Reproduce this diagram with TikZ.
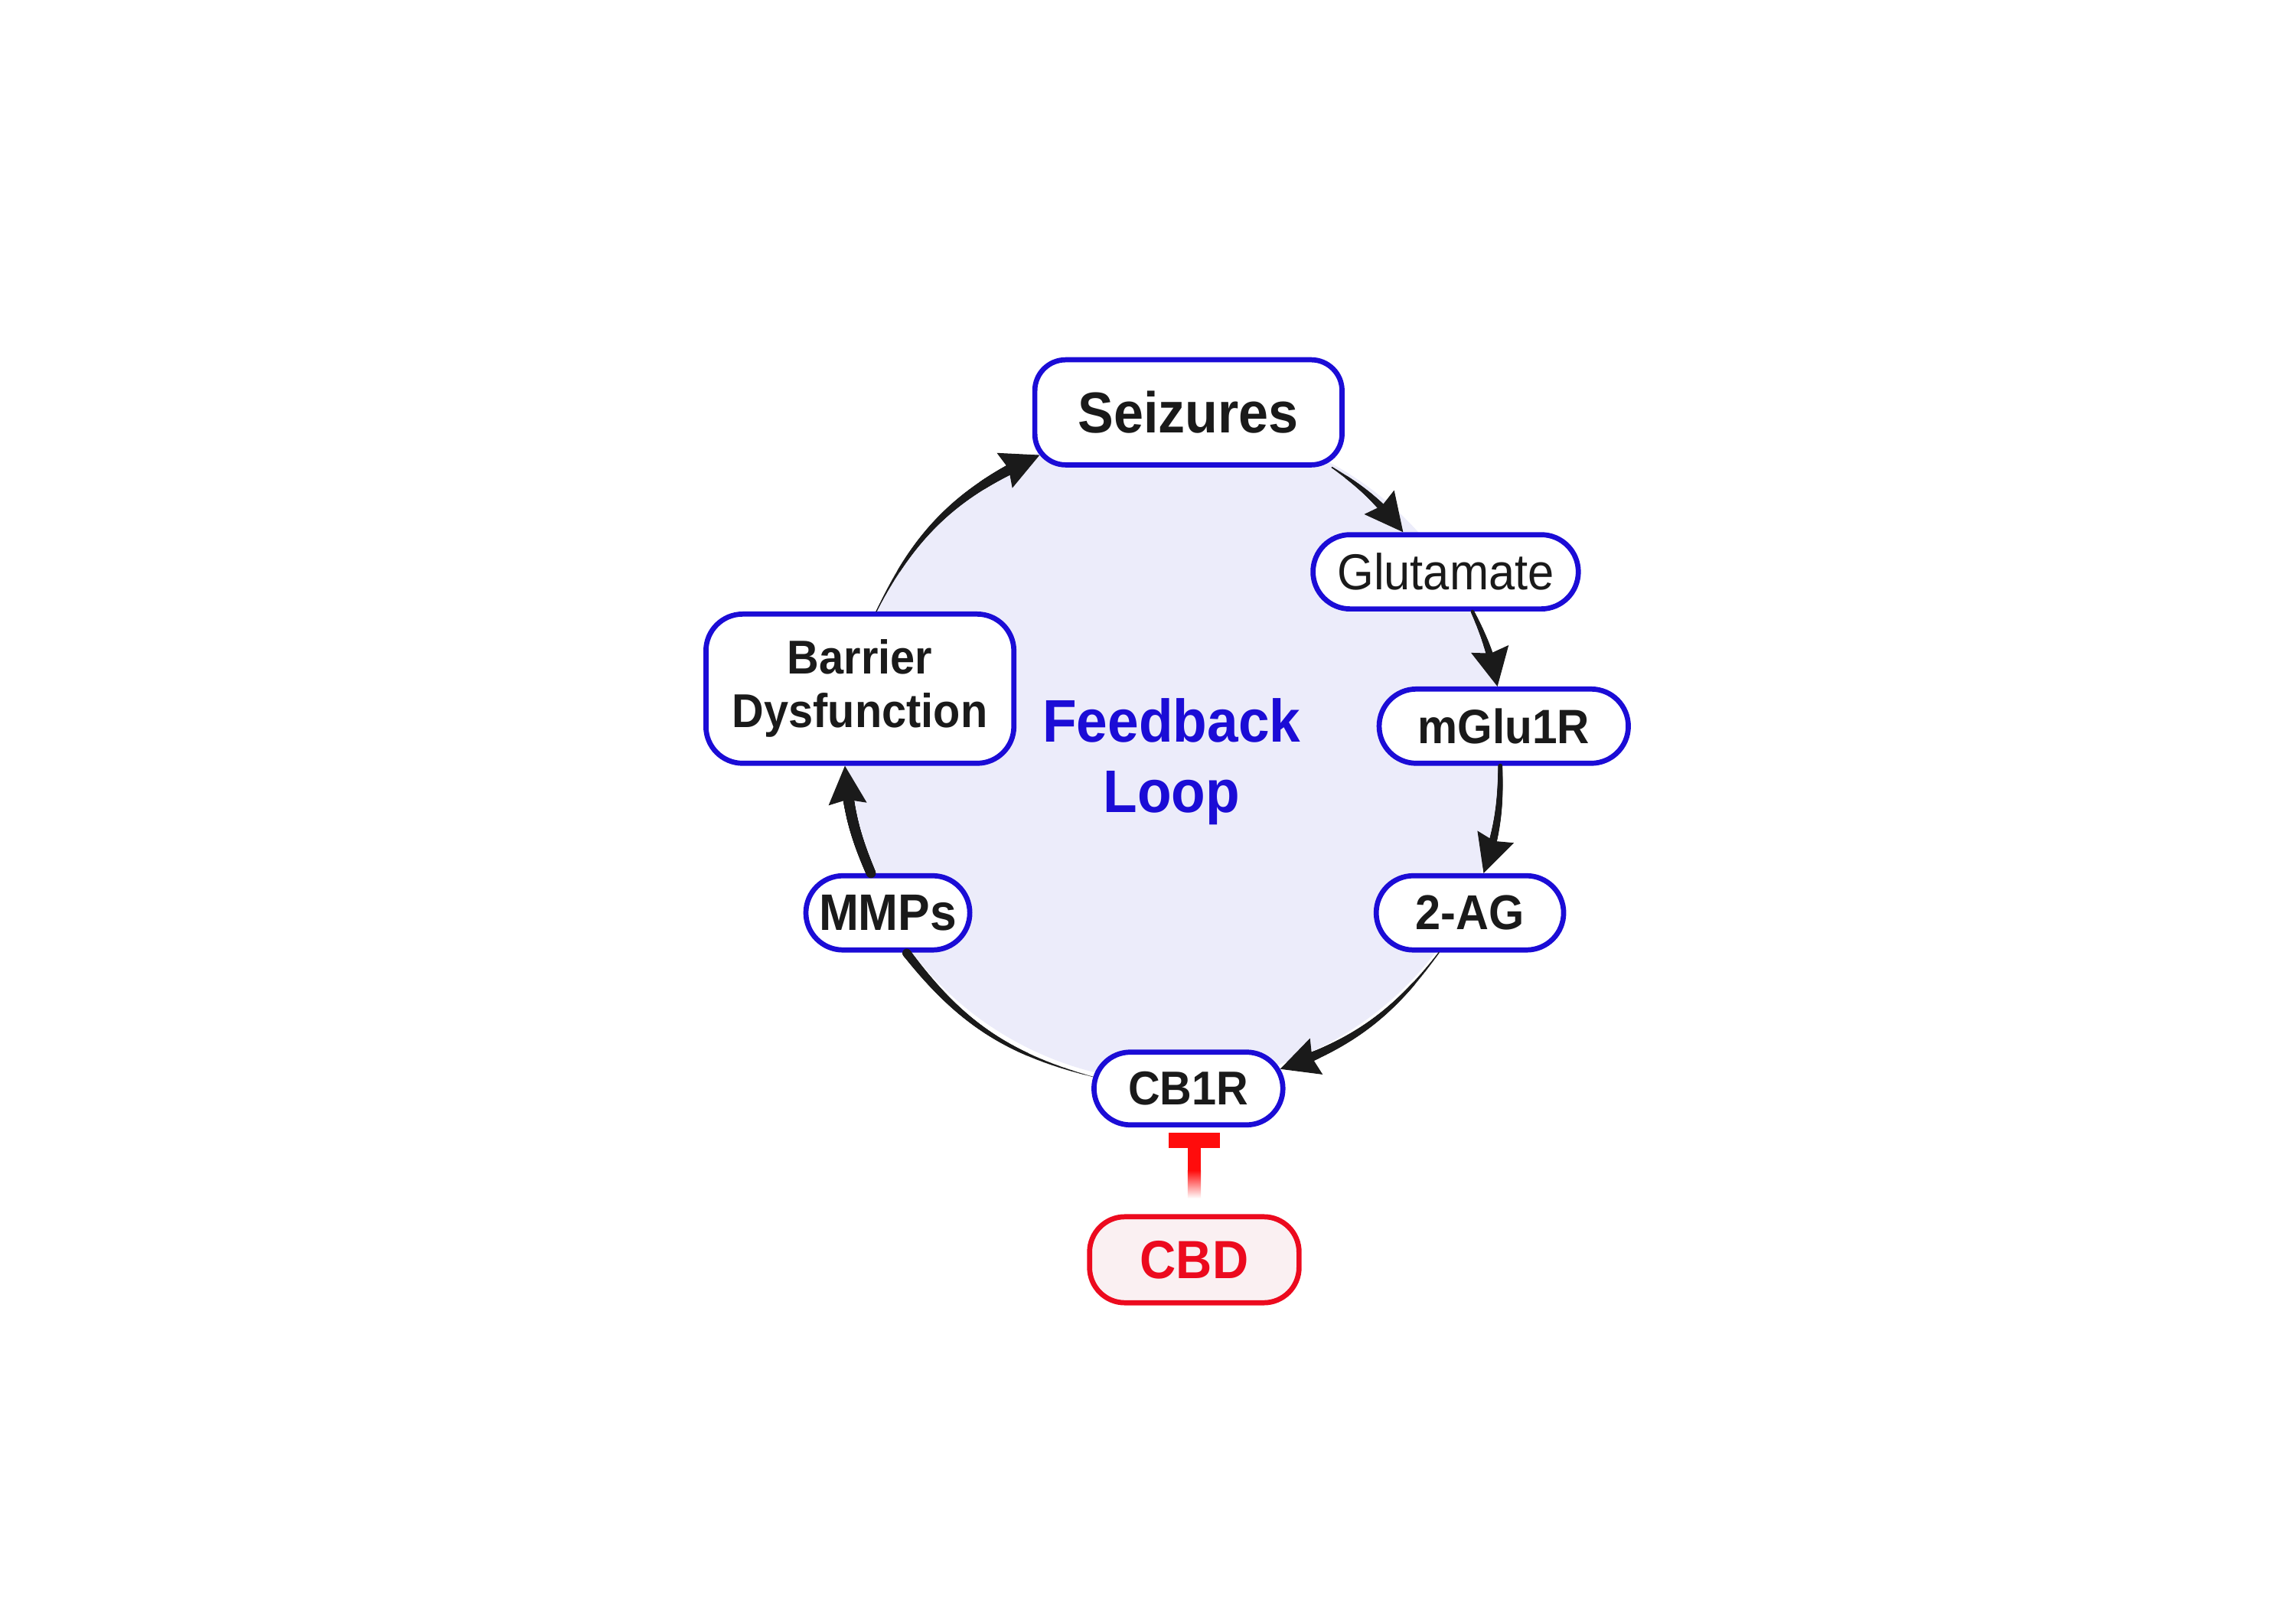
\documentclass[tikz,border=0pt]{standalone}
\usepackage{fontspec}
\setmainfont{Liberation Sans}[FakeStretch=0.93]
\usetikzlibrary{arrows.meta,decorations.markings,shapes.misc,calc}
\definecolor{loopblue}{RGB}{27,12,214}
\definecolor{loopfill}{RGB}{236,236,250}
\definecolor{ink}{RGB}{26,26,26}
\definecolor{cbdred}{RGB}{236,10,30}
\definecolor{cbdfill}{RGB}{250,240,242}
\definecolor{inhred}{RGB}{255,12,12}
\begin{document}
\begin{tikzpicture}[x=1pt,y=1pt,
  pill/.style={rounded rectangle, draw=loopblue, line width=3.5pt, fill=white, inner sep=0pt, text=ink},
  rbox/.style={rectangle, rounded corners=#1, draw=loopblue, line width=3.5pt, fill=white, inner sep=0pt, text=ink, align=center},
  taper/.style n args={3}{decorate, decoration={markings,
      mark=between positions 0 and #3 step 0.5pt with {%
        \pgfmathsetmacro\tapr{#1+(#2-#1)*\pgfkeysvalueof{/pgf/decoration/mark info/distance from start}/\pgfdecoratedpathlength}%
        \fill[ink] (0,0) circle[radius=\tapr pt];}}},
  flow/.style 2 args={draw=ink, line width=0.6pt, -{Stealth[length=26pt,width=26pt,inset=3pt]}, postaction={taper={#1}{#2}{-13pt}}},
  inhib/.style={draw=inhred, line width=9pt, -{Rectangle[length=10pt,width=35pt]}},
]
\useasboundingbox (0,0) rectangle (1562,-1093.4);
\begin{scope}[shift={(-3.5,2)}]
% background of the loop
\node[circle, fill=loopfill, minimum size=448pt, inner sep=0pt] (loopbg) at (802,-514) {};
% nodes
\node[rbox=21pt, minimum width=209pt, minimum height=71.5pt, font=\fontsize{39.2}{42}\selectfont\bfseries] (seiz) at (812,-282.5) {Seizures};
\node[pill, minimum width=180.5pt, minimum height=50.5pt, font=\fontsize{34.4}{38}\selectfont] (glut) at (987,-391) {Glutamate};
\node[pill, minimum width=169.5pt, minimum height=50.5pt, font=\fontsize{32.8}{36}\selectfont\bfseries] (mglu) at (1026.5,-496) {mGlu1R};
\node[pill, minimum width=127.5pt, minimum height=50.5pt, font=\fontsize{33.3}{36}\selectfont\bfseries] (ag) at (1003.5,-623) {2-AG};
\node[pill, minimum width=128.5pt, minimum height=49.5pt, font=\fontsize{32.3}{36}\selectfont\bfseries] (cb) at (812,-742.5) {CB1R};
\node[pill, minimum width=111.5pt, minimum height=50.5pt, font=\fontsize{34.9}{38}\selectfont\bfseries] (mmp) at (607.5,-623) {MMPs};
\node[rbox=25pt, minimum width=209.5pt, minimum height=101.5pt, font=\fontsize{32.3}{36.5}\selectfont\bfseries] (bar) at (588.5,-470.5) {Barrier\\Dysfunction};
\node[rbox=24pt, draw=cbdred, fill=cbdfill, text=cbdred, minimum width=142.5pt, minimum height=58.5pt, font=\fontsize{36.6}{40}\selectfont\bfseries] (cbd) at (816,-859) {CBD};
\node[text=loopblue, align=center, font=\fontsize{40.9}{48}\selectfont\bfseries] (fl) at (800.5,-520) {Feedback\\Loop};
% connectors
\coordinate (seiztip) at ([xshift=5pt,yshift=1.4pt]seiz.-164);
\draw[flow={0.5}{3.5}] (seiz.-21) to[bend left=9] (glut.137);
\draw[flow={1.2}{3.2}] (glut.-56) to[bend left=7] (mglu.99);
\draw[flow={1.5}{3.2}] (mglu.-95) to[bend left=9.5] (ag.71);
\draw[flow={0.4}{3.6}] (ag.-128) to[bend left=17] (cb.12);
\path[taper={0.2}{3}{1}] (cb.173) to[bend left=19] (mmp.-65);
\draw[flow={3.3}{3.9}] (mmp.113) to[bend left=9.5] (bar.-101);
\draw[flow={0.3}{4}] (bar.78) to[bend left=20] (seiztip);
% inhibition CBD -| CB1R
\coordinate (inhstart) at ([yshift=29.75pt]cbd.north);
\coordinate (cbbot) at ([yshift=-3.75pt]cb.south);
\coordinate (inhend) at (inhstart |- cbbot);
\draw[inhib] (inhstart) -- (inhend);
\shade[top color=inhred, bottom color=white] ($(inhstart)+(-4.5,0)$) rectangle ($(inhstart)+(4.5,-19)$);
\end{scope}
\end{tikzpicture}
\end{document}
